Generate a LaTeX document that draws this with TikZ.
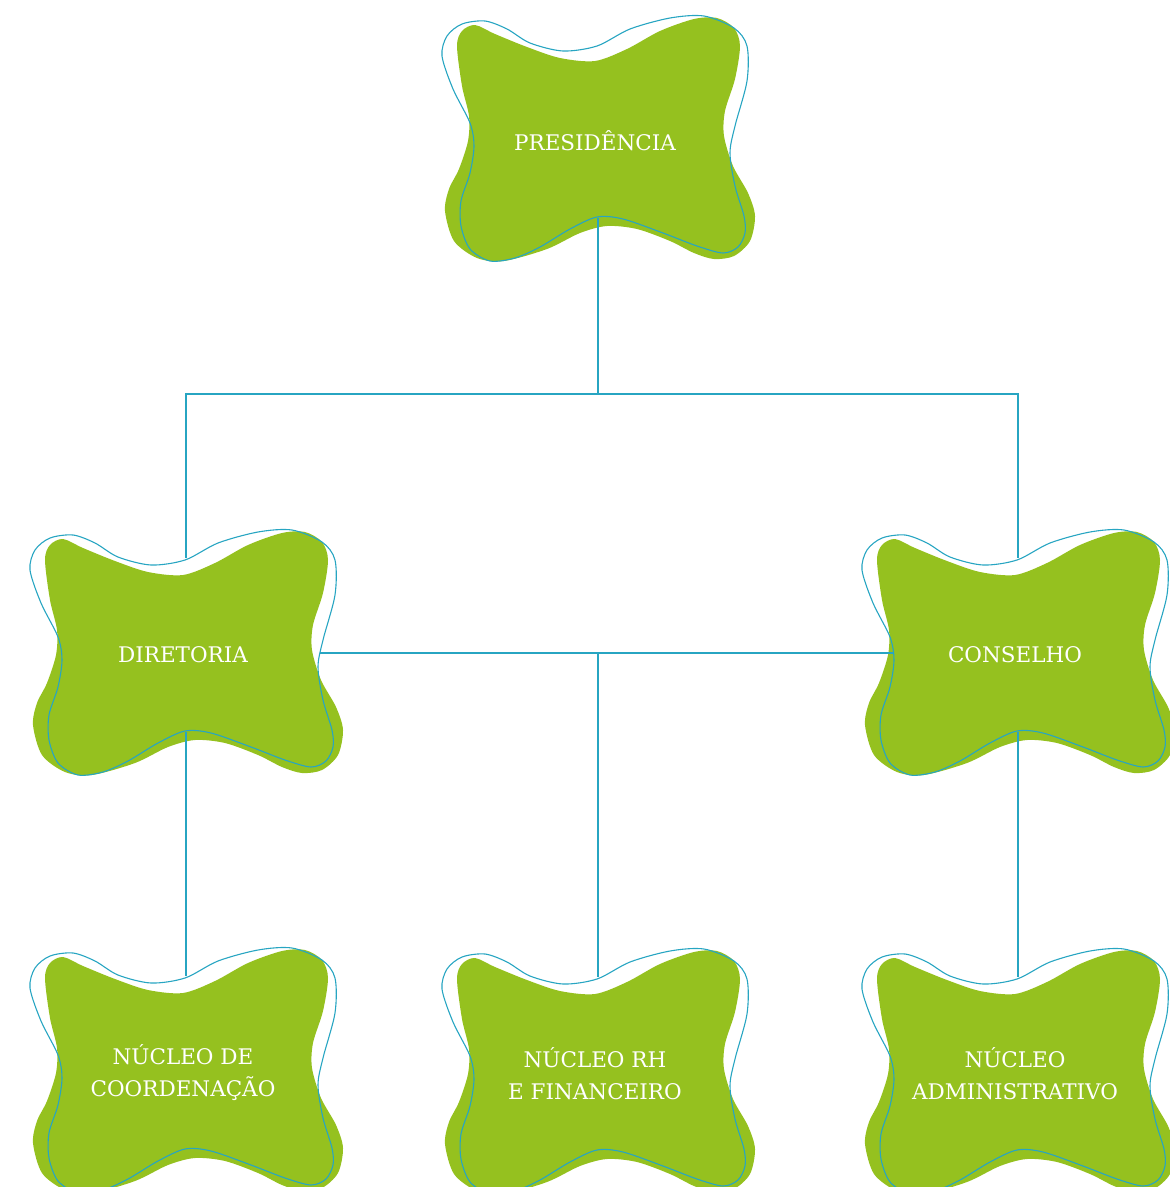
\documentclass[tikz,border=0pt]{standalone}
\usepackage{fontspec}
\setmainfont{DejaVu Serif}
\definecolor{vertbloc}{HTML}{95C11F}
\definecolor{bleulien}{HTML}{27A5C2}
\tikzset{
  vert/.style={fill=vertbloc},
  contour/.style={draw=bleulien, line width=1.1pt},
  liaison/.style={draw=bleulien, line width=1.3pt},
  etiquette/.style={text=white, font=\fontsize{21.5}{32}\selectfont, align=center, inner sep=0pt}
}
% bulle verte + contour bleu, avec points d'attache
\newcommand{\bulle}[3]{%
  \begin{scope}[shift={(#2)}]
    \fill[vert] plot[smooth cycle] coordinates {(-120,-116) (-100,-107) (-68,-94) (-35,-83) (0,-80) (32,-92) (65,-110) (99,-122) (122,-123) (139,-113) (145,-95) (140,-62) (130,-30) (129,-5) (138,25) (153,52) (160,75) (155,100) (139,115) (119,118) (99,112) (75,100) (42,88) (12,85) (-15,92) (-48,108) (-91,120) (-118,117) (-141,100) (-150,70) (-146,48) (-136,28) (-127,0) (-126,-25) (-133,-55) (-138,-95) (-133,-110)};
    \draw[contour] plot[smooth cycle] coordinates {(-110,-120) (-88,-112) (-65,-98) (-32,-90) (2,-95) (35,-112) (75,-123) (109,-125) (139,-113) (152,-95) (152,-60) (140,-15) (135,12) (140,45) (149,75) (150,92) (143,106) (128,112) (102,105) (68,92) (28,78) (2,76) (-25,88) (-55,106) (-80,117) (-105,120) (-125,108) (-134,85) (-134,60) (-125,32) (-121,5) (-125,-18) (-142,-52) (-153,-85) (-148,-105) (-133,-117)};
    \coordinate (#1-n) at (3,-97);
    \coordinate (#1-s) at (3,77);
    \coordinate (#1-w) at (-122,-2);
    \coordinate (#1-e) at (137,-2);
  \end{scope}
  \node[etiquette] (#1) at (#2) {#3};
}
\begin{document}
\begin{tikzpicture}[x=1pt,y=-1pt]
\useasboundingbox (0,0) rectangle (1170,1187);
\clip (0,0) rectangle (1170,1187);
% bulles
\bulle{pres}{595,141}{PRESIDÊNCIA}
\bulle{dir}{183,655}{DIRETORIA}
\bulle{cons}{1015,655}{CONSELHO}
\bulle{coord}{183,1073}{NÚCLEO DE\\COORDENAÇÃO}
\bulle{rh}{595,1074}{NÚCLEO RH\\E FINANCEIRO}
\bulle{adm}{1015,1074}{NÚCLEO\\ADMINISTRATIVO}
% liaisons
\coordinate (bus) at (598,394);
\draw[liaison] (pres-s) -- (bus);
\draw[liaison] (dir-n) |- (bus) -| (cons-n);
\draw[liaison] (dir-e) -- (cons-w);
\draw[liaison] (rh-n) -- (rh-n |- dir-e);
\draw[liaison] (dir-s) -- (coord-n);
\draw[liaison] (cons-s) -- (adm-n);
\end{tikzpicture}
\end{document}
